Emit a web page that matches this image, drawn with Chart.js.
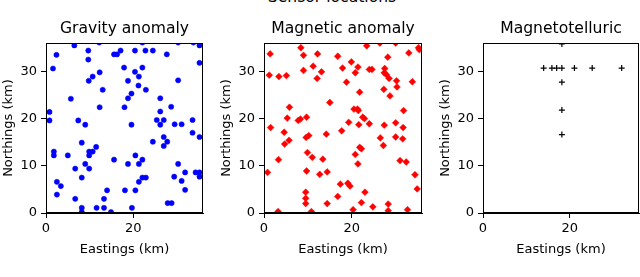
<!DOCTYPE html>
<html lang="en">
<head>
  <meta charset="UTF-8">
  <title>Sensor locations</title>
  <style>
    body { margin: 0; background: #fff; width: 640px; height: 277px; overflow: hidden; position: relative; font-family: "DejaVu Sans", sans-serif; }
    .box { position: absolute; top: 0; height: 277px; }
    .box canvas { display: block; }
    #suptitle { position: absolute; top: -10px; left: 232px; width: 200px; text-align: center; font-size: 15.6px; line-height: 15.6px; color: #000; white-space: nowrap; }
  </style>
</head>
<body>
  <div id="suptitle">Sensor locations</div>
  <div class="box" style="left:0px"><canvas id="gravityChart" width="210" height="277"></canvas></div>
  <div class="box" style="left:218px"><canvas id="magneticChart" width="210" height="277"></canvas></div>
  <div class="box" style="left:437px"><canvas id="mtChart" width="203" height="277"></canvas></div>

  <script src="https://cdn.jsdelivr.net/npm/chart.js"></script>
  <script>
    // axis ticks (km)
    const xTicks = [0, 20];
    const yTicks = [0, 10, 20, 30];

    // gravity anomaly stations
    const gravityX = [6.5, 2.4, 9.7, 9.7, 1.6, 12.3, 10.7, 9.8, 13.0, 5.7, 12.3, 0.8, 0.8, 7.4, 9.0, 8.2, 11.5, 1.8, 1.8, 5.0,
      9.9, 10.7, 9.9, 6.7, 9.0, 9.9, 8.2, 2.5, 3.4, 2.5, 6.7, 8.2, 8.2, 11.6, 13.3, 14.0, 13.3, 14.9, 12.2, 15.6,
      16.3, 17.1, 20.4, 22.8, 24.5, 27.7, 35.2, 35.2, 17.9, 22.1, 20.4, 21.3, 18.8, 30.3, 21.2, 22.9, 19.6, 18.8, 26.2, 18.0,
      28.7, 26.2, 25.4, 27.0, 33.6, 19.6, 26.2, 29.5, 31.1, 33.6, 35.2, 27.0, 27.8, 27.0, 24.5, 15.6, 20.5, 22.1, 18.8, 21.3,
      30.3, 22.1, 22.9, 21.3, 29.4, 31.9, 34.3, 35.2, 35.2, 31.1, 18.1, 20.5, 31.9, 27.9, 28.8, 19.7, 22.1, 30.3, 33.8];
    const gravityY = [35.5, 33.5, 34.4, 32.5, 30.6, 29.8, 28.9, 28.0, 26.1, 24.2, 22.4, 21.4, 19.6, 19.6, 18.7, 14.9, 14.0, 13.0, 12.2, 12.2,
      12.2, 13.0, 13.0, 9.4, 10.4, 9.4, 7.5, 6.6, 5.7, 3.9, 3.0, 1.1, 0.2, 1.1, 3.0, 4.8, 1.1, 0.2, 36.1, 33.6,
      33.6, 34.4, 34.4, 34.4, 34.4, 33.6, 35.5, 31.8, 30.8, 30.8, 29.9, 28.9, 28.0, 28.1, 27.0, 26.1, 25.3, 24.3, 24.3, 22.4,
      22.5, 21.5, 19.7, 19.7, 19.7, 18.7, 18.7, 18.8, 18.8, 17.0, 16.1, 16.1, 15.1, 14.2, 15.1, 11.3, 12.2, 11.3, 10.4, 10.4,
      10.4, 7.5, 7.5, 6.6, 7.7, 8.6, 8.6, 8.6, 7.7, 6.8, 4.8, 4.8, 4.9, 2.1, 2.1, 1.1, 36.1, 36.1, 36.1];

    // magnetic anomaly stations
    const magneticX = [1.4, 1.2, 3.4, 5.1, 8.4, 9.0, 9.0, 11.2, 12.2, 13.1, 12.1, 5.8, 5.3, 7.8, 8.3, 9.7, 1.5, 4.6, 4.7, 5.7,
      9.6, 10.2, 9.9, 11.0, 13.4, 14.2, 15.0, 3.3, 0.8, 9.7, 12.7, 14.4, 9.5, 9.5, 9.5, 3.2, 10.8, 14.4, 16.8, 17.4,
      16.8, 23.4, 26.4, 30.0, 35.2, 33.0, 28.2, 19.9, 17.9, 21.4, 20.8, 24.0, 24.6, 27.5, 27.4, 27.9, 28.5, 30.2, 30.3, 33.8,
      18.8, 27.3, 28.7, 21.8, 20.5, 21.3, 21.5, 31.8, 22.5, 22.9, 19.3, 21.6, 24.0, 30.0, 31.7, 17.7, 27.4, 26.5, 27.2, 30.0,
      31.6, 21.8, 22.2, 20.8, 21.4, 31.0, 32.4, 34.4, 34.9, 19.1, 19.6, 23.0, 22.2, 24.8, 20.3, 28.3, 28.3, 32.7, 35.4];
    const magneticY = [33.7, 29.2, 28.9, 29.1, 35.0, 33.4, 30.2, 31.1, 33.7, 29.9, 28.5, 22.4, 20.1, 19.6, 19.9, 20.3, 18.1, 17.1, 14.6, 15.4,
      16.0, 16.4, 12.8, 11.8, 11.4, 16.7, 23.4, 11.3, 8.6, 8.9, 8.2, 8.7, 4.4, 3.1, 2.0, 0.3, 0.3, 2.0, 3.5, 6.1,
      33.2, 35.4, 36.0, 36.0, 35.0, 33.9, 33.0, 32.0, 30.7, 30.9, 29.7, 30.4, 30.4, 30.6, 29.7, 29.3, 28.5, 28.0, 26.7, 27.8,
      27.7, 26.2, 24.8, 25.6, 22.0, 22.0, 21.7, 21.7, 20.3, 20.0, 19.2, 18.7, 18.9, 19.1, 18.1, 17.4, 18.6, 15.9, 14.3, 16.1,
      15.7, 13.9, 13.6, 12.4, 10.4, 11.1, 10.8, 8.1, 5.1, 6.3, 5.7, 4.4, 2.2, 1.3, 0.7, 1.9, 0.5, 0.7, 34.6];

    // magnetotelluric stations
    const mtX = [14.0, 15.9, 17.0, 18.2, 21.1, 25.2, 32.0, 18.2, 18.2, 18.2, 18.2];
    const mtY = [30.7, 30.7, 30.7, 30.7, 30.7, 30.7, 30.7, 27.7, 21.8, 16.6, 35.8];

    const axisMax = 36;

    Chart.defaults.font.family = '"DejaVu Sans", sans-serif';
    Chart.defaults.color = '#000';

    // box around the plot area, like matplotlib spines
    const framePlugin = {
      id: 'frame',
      afterDraw(chart) {
        const { ctx, chartArea: a } = chart;
        ctx.save();
        ctx.strokeStyle = '#000';
        ctx.lineWidth = 1;
        ctx.strokeRect(Math.round(a.left) + 0.5, Math.round(a.top) + 0.5,
          Math.round(a.right - a.left) - 1, Math.round(a.bottom - a.top) - 1);
        ctx.restore();
      }
    };

    function toPoints(xs, ys) {
      return xs.map((x, i) => ({ x: x, y: ys[i] }));
    }

    function makeChart(id, title, points, style, rightPad) {
      return new Chart(document.getElementById(id), {
        type: 'scatter',
        data: { datasets: [{ data: points, ...style }] },
        options: {
          responsive: false,
          animation: false,
          layout: { autoPadding: false, padding: { left: 0, right: rightPad, top: 0, bottom: 0 } },
          plugins: {
            legend: { display: false },
            tooltip: { enabled: false },
            title: {
              display: true,
              fullSize: false,
              text: title,
              font: { size: 15.6, weight: 'normal' },
              color: '#000',
              padding: { top: 19.2, bottom: 5.1 }
            }
          },
          scales: {
            x: {
              type: 'linear',
              min: 0,
              max: axisMax,
              afterBuildTicks: s => { s.ticks = xTicks.map(v => ({ value: v })); },
              afterFit: s => { s.height = 64; s.paddingLeft = 0; s.paddingRight = 0; },
              ticks: { font: { size: 13 }, padding: 3, maxRotation: 0 },
              grid: { display: true, drawOnChartArea: false, drawTicks: true, tickLength: 5, color: '#000' },
              border: { display: true, color: '#000' },
              title: { display: true, text: 'Eastings (km)', font: { size: 13 }, padding: { top: 0, bottom: 20 } }
            },
            y: {
              type: 'linear',
              min: 0,
              max: axisMax,
              afterBuildTicks: s => { s.ticks = yTicks.map(v => ({ value: v })); },
              afterFit: s => { s.width = 46; s.paddingTop = 0; s.paddingBottom = 0; },
              ticks: { font: { size: 13 }, padding: 4 },
              grid: { display: true, drawOnChartArea: false, drawTicks: true, tickLength: 5, color: '#000' },
              border: { display: true, color: '#000' },
              title: { display: true, text: 'Northings (km)', font: { size: 13 }, padding: { top: 1, bottom: 0 } }
            }
          }
        },
        plugins: [framePlugin]
      });
    }

    makeChart('gravityChart', 'Gravity anomaly', toPoints(gravityX, gravityY), {
      pointStyle: 'circle', pointRadius: 2.6, pointBorderWidth: 0.5,
      backgroundColor: '#0000ff', borderColor: '#0000ff'
    }, 7);

    makeChart('magneticChart', 'Magnetic anomaly', toPoints(magneticX, magneticY), {
      pointStyle: 'rectRot', pointRadius: 3.4, pointBorderWidth: 0.5,
      backgroundColor: '#ff0000', borderColor: '#ff0000'
    }, 6);

    makeChart('mtChart', 'Magnetotelluric', toPoints(mtX, mtY), {
      pointStyle: 'cross', pointRadius: 3, pointBorderWidth: 1.2,
      backgroundColor: '#000', borderColor: '#000'
    }, 1);
  </script>
</body>
</html>
